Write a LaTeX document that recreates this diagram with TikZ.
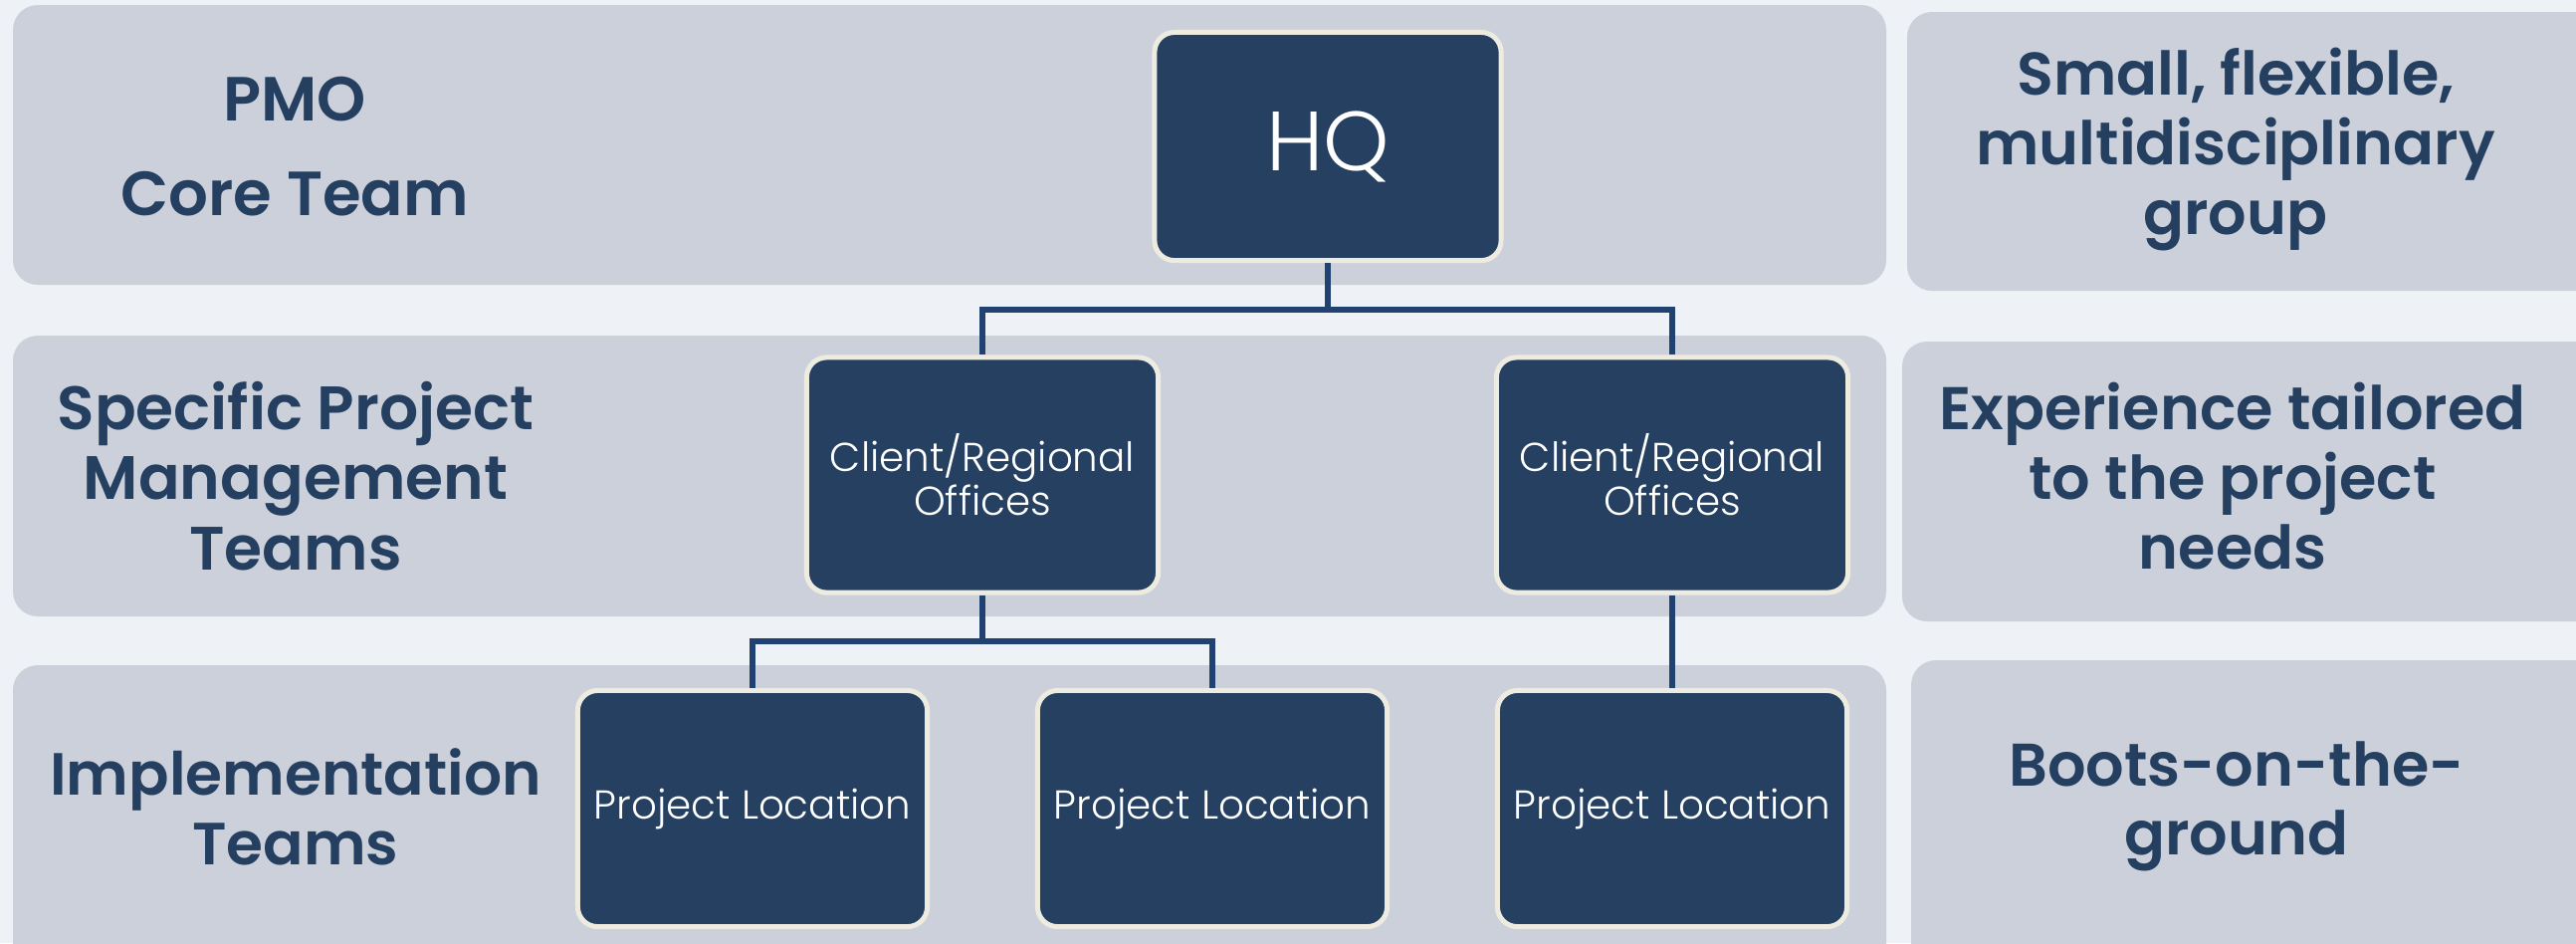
\documentclass[tikz,border=0pt]{standalone}
\usepackage{fontspec}
\setmainfont{Poppins}
\newfontfamily\lightf{Poppins}[UprightFont={* Light}]
\newfontfamily\semif{Poppins}[UprightFont={* SemiBold}]
\definecolor{bgcol}{HTML}{EEF1F5}
\definecolor{bandcol}{HTML}{CCD0DA}
\definecolor{boxcol}{HTML}{264061}
\definecolor{rimcol}{HTML}{EEEBE0}
\definecolor{linecol}{HTML}{1F4270}
\definecolor{txtcol}{HTML}{243F60}
\tikzset{
  band/.style={fill=bandcol, rounded corners=0.25cm},
  orgbox/.style={draw=rimcol, line width=1.42pt, fill=boxcol, rounded corners=0.2cm,
     text=white, align=center, inner sep=0pt, font=\lightf\fontsize{11.5}{12.5}\selectfont},
  conn/.style={draw=linecol, line width=1.45pt},
  leftlab/.style={text=txtcol, align=center, font=\semif\fontsize{17.5}{20}\selectfont},
  rightlab/.style={text=txtcol, align=center, font=\semif\fontsize{17.2}{19.8}\selectfont}
}
\begin{document}
\begin{tikzpicture}[x=0.01cm, y=-0.01cm]
\useasboundingbox (0,0) rectangle (2588,947);
\clip (0,0) rectangle (2588,947);
\fill[bgcol] (0,0) rectangle (2588,947);
% bands
\fill[band] (13,5) rectangle (1895,286);
\fill[band] (13,337) rectangle (1895,619);
\fill[band] (13,668) rectangle (1895,980);
% right boxes
\fill[band] (1916,12) rectangle (2640,292);
\fill[band] (1911,343) rectangle (2640,624);
\fill[band] (1920,663) rectangle (2640,980);
% labels
\node[leftlab, font=\semif\fontsize{17.8}{27}\selectfont] (pmo) at (296,147) {PMO\\Core Team};
\node[leftlab] (spm) at (297,478) {Specific Project\\Management\\Teams};
\node[leftlab, font=\semif\fontsize{17}{20}\selectfont] (impl) at (297,810) {Implementation\\Teams};
\node[rightlab] (r1) at (2246,150) {Small, flexible,\\multidisciplinary\\group};
\node[rightlab] (r2) at (2243,478) {Experience tailored\\to the project\\needs};
\node[rightlab] (r3) at (2247,810) {Boots-on-the-\\ground};
% org boxes
\node[orgbox, minimum width=3.48cm, minimum height=2.29cm, font=\lightf\fontsize{24}{26}\selectfont] (hq) at (1334,147) {HQ};
\node[orgbox, minimum width=3.53cm, minimum height=2.36cm] (c1) at (987,477) {Client/Regional\\Offices};
\node[orgbox, minimum width=3.53cm, minimum height=2.36cm] (c2) at (1680,477) {Client/Regional\\Offices};
\node[orgbox, minimum width=3.51cm, minimum height=2.37cm] (p1) at (756,812) {Project Location};
\node[orgbox, minimum width=3.51cm, minimum height=2.37cm] (p2) at (1218,812) {Project Location};
\node[orgbox, minimum width=3.51cm, minimum height=2.37cm] (p3) at (1680,812) {Project Location};
% connectors
\coordinate (j1) at (0,311);
\coordinate (j2) at (0,644);
\draw[conn] (hq.south) -- (hq.south |- j1) -| (c1.north);
\draw[conn] (hq.south |- j1) -| (c2.north);
\draw[conn] (c1.south) -- (c1.south |- j2) -| (p1.north);
\draw[conn] (c1.south |- j2) -| (p2.north);
\draw[conn] (c2.south) -- (p3.north);
\end{tikzpicture}
\end{document}
